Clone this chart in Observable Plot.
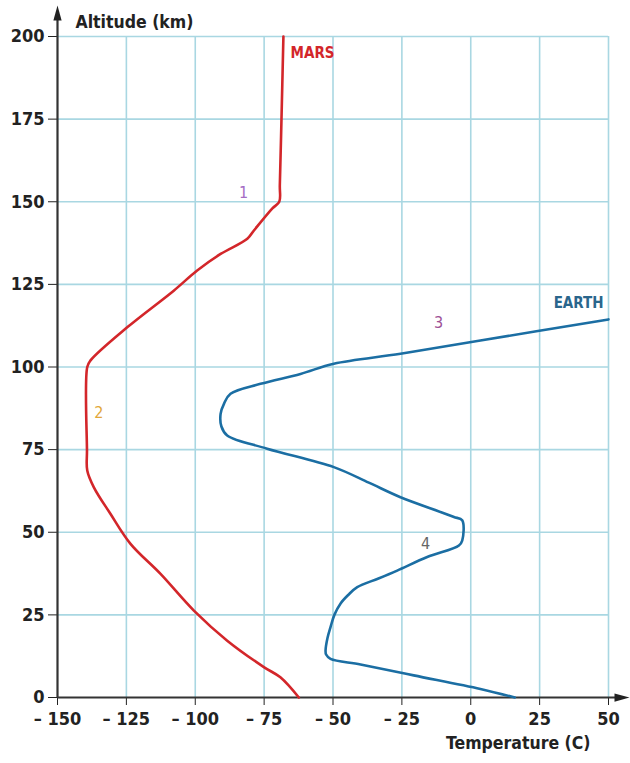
<!DOCTYPE html>
<html>
<head>
<meta charset="utf-8">
<script src="https://cdn.jsdelivr.net/npm/d3@7"></script>
<script src="https://cdn.jsdelivr.net/npm/@observablehq/plot@0.6"></script>
<style>
  html, body { margin: 0; padding: 0; background: #fff; }
  #chart svg { display: block; }
</style>
</head>
<body>
<div id="chart"></div>
<script>
// ---- data ----
const xTicks = [-150, -125, -100, -75, -50, -25, 0, 25, 50];
const yTicks = [0, 25, 50, 75, 100, 125, 150, 175, 200];

const marsAlt  = [0, 6.1, 9.2, 17.2, 26.3, 37.4, 46.5, 55.6, 63.6, 68.7, 74.7, 100, 102, 112, 123.1, 129.2, 134.2, 138.8, 141.3, 148, 150, 155, 175, 200];
const marsTemp = [-62.4, -69.1, -75.1, -88.4, -100.5, -112.6, -123.5, -130.8, -136.8, -139.2, -139.3, -139.2, -138, -124.7, -107.8, -99.3, -90.8, -81.1, -78.7, -72, -69.5, -69.3, -68.7, -68];

const earthAlt  = [0, 2.6, 6.7, 10, 11.7, 13, 14.2, 18, 21.3, 25, 28.4, 31, 33.4, 36, 38.4, 42.5, 46, 47.5, 53.6, 54.6, 56, 60.6, 65, 69.7, 75.3, 79.3, 82, 85.8, 89, 91.9, 94.9, 97.9, 101, 104, 108, 114.4];
const earthTemp = [16, 3.5, -20.7, -40, -50.9, -52.5, -52.7, -52, -50.9, -49.5, -47.3, -44.5, -41.2, -33.5, -26.7, -15.8, -4.3, -3.1, -3.1, -6.1, -10.5, -25.5, -37, -49.7, -73.9, -88.4, -90.5, -90.8, -89.5, -87.2, -76.3, -61.8, -49.7, -25.5, 3.5, 50];

const seriesNames = ["MARS", "EARTH"];
const seriesLabelTemp = [-65.4, 48.2];
const seriesLabelAlt = [194.9, 119.3];

const markerText = ["1", "2", "3", "4"];
const markerTemp = [-82.5, -135, -11.7, -16.4];
const markerAlt  = [152.8, 86.2, 113.2, 46.6];
const markerColor = ["#a46cc4", "#e2a73a", "#9c4f96", "#666666"];

const xLabel = "Temperature (C)";
const yLabel = "Altitude (km)";

// ---- build tables ----
const mars = marsAlt.map((a, i) => ({alt: a, temp: marsTemp[i]}));
const earth = earthAlt.map((a, i) => ({alt: a, temp: earthTemp[i]}));
const markers = markerText.map((t, i) => ({t, temp: markerTemp[i], alt: markerAlt[i], c: markerColor[i]}));

const FONT = '"DejaVu Sans Condensed", "Liberation Sans Narrow", "DejaVu Sans", sans-serif';
const RED = "#d3262a";
const BLUE = "#1b6ea3";
const GRID = "#a9d7e2";
const AXIS = "#333333";

const upTri = {draw(ctx, size) { const s = Math.sqrt(size / Math.PI); ctx.moveTo(0, -s); ctx.lineTo(0.55 * s, s); ctx.lineTo(-0.55 * s, s); ctx.closePath(); }};
const rightTri = {draw(ctx, size) { const s = Math.sqrt(size / Math.PI); ctx.moveTo(s, 0); ctx.lineTo(-s, 0.55 * s); ctx.lineTo(-s, -0.55 * s); ctx.closePath(); }};

const fmt = d => d < 0 ? "\u2013 " + Math.abs(d) : String(d);

const chart = Plot.plot({
  width: 630,
  height: 763,
  marginLeft: 57,
  marginRight: 22,
  marginTop: 36,
  marginBottom: 66,
  style: {fontFamily: FONT, fontSize: "18px", color: "#222", background: "#fff", fontWeight: "bold", fontStretch: "condensed"},
  x: {domain: [xTicks[0], xTicks[xTicks.length - 1]], ticks: xTicks, tickFormat: fmt, tickSize: 8, tickPadding: 7, label: null},
  y: {domain: [yTicks[0], yTicks[yTicks.length - 1]], ticks: yTicks, tickSize: 9, tickPadding: 4, label: null},
  marks: [
    Plot.ruleX(xTicks.slice(1), {stroke: GRID, strokeWidth: 1.6}),
    Plot.ruleY(yTicks.slice(1), {stroke: GRID, strokeWidth: 1.6}),
    Plot.ruleX([xTicks[0]], {stroke: AXIS, strokeWidth: 2.2, insetTop: -20}),
    Plot.ruleY([yTicks[0]], {stroke: AXIS, strokeWidth: 2.2, insetRight: -12}),
    Plot.dot([0], {x: () => xTicks[0], y: () => yTicks[yTicks.length - 1], symbol: upTri, r: 7.5, fill: "#222", stroke: "none", dy: -23.5}),
    Plot.dot([0], {x: () => xTicks[xTicks.length - 1], y: () => yTicks[0], symbol: rightTri, r: 7.5, fill: "#222", stroke: "none", dx: 13.5}),
    Plot.line(mars, {x: "temp", y: "alt", stroke: RED, strokeWidth: 2.6, curve: "catmull-rom"}),
    Plot.line(earth, {x: "temp", y: "alt", stroke: BLUE, strokeWidth: 2.6, curve: "catmull-rom"}),
    Plot.text([seriesNames[0]], {x: () => seriesLabelTemp[0], y: () => seriesLabelAlt[0], text: d => d, fill: RED, fontSize: 15, fontWeight: "bold", textAnchor: "start"}),
    Plot.text([seriesNames[1]], {x: () => seriesLabelTemp[1], y: () => seriesLabelAlt[1], text: d => d, fill: "#2a668c", fontSize: 15, fontWeight: "bold", textAnchor: "end"}),
    Plot.text(markers, {x: "temp", y: "alt", text: "t", fill: d => d.c, fontSize: 16, fontWeight: "normal"}),
    Plot.text([yLabel], {frameAnchor: "top-left", dx: 18, dy: -21, text: d => d, fontSize: 17.5, fill: "#222", textAnchor: "start"}),
    Plot.text([xLabel], {frameAnchor: "bottom-right", dx: -18, dy: 51, text: d => d, fontSize: 17.5, fill: "#222", textAnchor: "end"})
  ]
});
document.getElementById("chart").appendChild(chart);
</script>
</body>
</html>
